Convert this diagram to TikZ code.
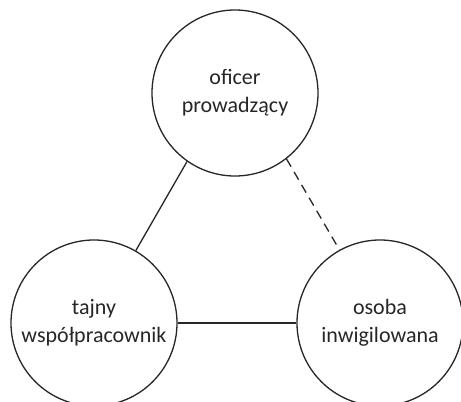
\documentclass[tikz,border=0pt]{standalone}
\usepackage{fontspec}
\setmainfont{Carlito}
\usetikzlibrary{positioning}

\begin{document}
\begin{tikzpicture}[
        x = 1pt, y = -1pt,
        line width = 1.3pt,
        role/.style = {circle, draw = black!85, minimum size = 166pt, inner sep = 0pt,
                       align = center, font = \fontsize{22}{28}\selectfont, text = black!85},
        link/.style = {draw = black!85, line width = 1.3pt},
        hidden/.style = {link, dash pattern = on 9pt off 6pt}
    ]

      \useasboundingbox (0,0) rectangle (461,402);

      \node[role] (officer) at (235,93) {oficer\\prowadzący};
      \node[role] (agent) at (94,323) {tajny\\współpracownik};
      \node[role] (target) at (380,323) {osoba\\inwigilowana};


      \path[link] (officer.235) -- (agent.60);
      \path[link] (agent.east) -- (target.west);
      \path[hidden] (officer.308) -- (target.119);

\end{tikzpicture}
\end{document}
